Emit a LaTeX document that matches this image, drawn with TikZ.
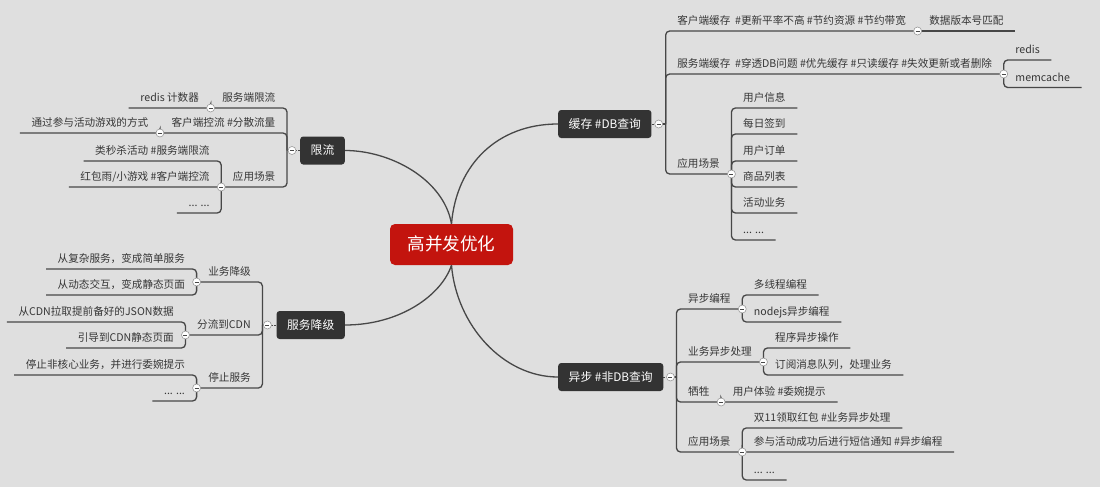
\documentclass[tikz,border=0pt]{standalone}
\usepackage{fontspec}
\setmainfont{Noto Sans CJK SC}
\usetikzlibrary{calc}
\definecolor{bgpaper}{HTML}{DFDFDF}
\definecolor{hubred}{HTML}{C3140E}
\definecolor{boxgray}{HTML}{333333}
\definecolor{inkgray}{HTML}{363636}
\definecolor{linegray}{HTML}{474747}
\definecolor{knobedge}{HTML}{9A9A9A}
\tikzset{
  hub/.style={fill=hubred, text=white, rounded corners=5pt, font=\fontsize{17.6}{20}\selectfont,
    inner xsep=17.5pt, inner ysep=0pt, minimum height=41pt, text height=14pt, text depth=2pt},
  branch/.style={fill=boxgray, text=white, rounded corners=3pt, font=\fontsize{11.8}{14}\selectfont,
    inner xsep=10.5pt, inner ysep=0pt, minimum height=28pt, text height=9.5pt, text depth=1.5pt},
  leaf/.style={text=inkgray, font=\fontsize{10.6}{12}\selectfont, inner xsep=11.5pt, inner ysep=3.5pt,
    text height=8pt, text depth=2.5pt},
  link/.style={draw=linegray, line width=1.3pt, rounded corners=4pt},
  knob/.style={fill=white, draw=knobedge, line width=0.6pt},
  knobbar/.style={draw=linegray, line width=0.8pt},
}
\begin{document}
\begin{tikzpicture}[x=1pt, y=-1pt]
\fill[bgpaper] (0,0) rectangle (1100,487);
\useasboundingbox (0,0) rectangle (1100,487);

\node[hub] (hub) at (451.5,244.5) {高并发优化};

% 缓存
\node[branch, anchor=west] (cache) at (558,124) {缓存 \#DB查询};
\coordinate (cache-k) at ([xshift=7pt]cache.east);
\coordinate (cache-j) at ([xshift=14pt]cache.east);
\node[leaf, anchor=south west] (cache-cli) at (cache-j |- 0,31) {客户端缓存~~\#更新平率不高 \#节约资源 \#节约带宽};
\node[leaf, anchor=south west] (cache-ver) at (cache-cli.south east) {数据版本号匹配};
\node[leaf, anchor=south west] (cache-srv) at (cache-j |- 0,74) {服务端缓存~~\#穿透DB问题 \#优先缓存 \#只读缓存 \#失效更新或者删除};
\node[leaf, anchor=south west] (cache-redis) at (cache-srv.south east |- 0,60) {redis};
\node[leaf, anchor=south west] (cache-mem) at (cache-srv.south east |- 0,87.5) {memcache};
\node[leaf, anchor=south west] (cache-use) at (cache-j |- 0,174) {应用场景};
\foreach \t/\y [count=\i] in {用户信息/108, 每日签到/134, 用户订单/161, 商品列表/187, 活动业务/213, {... ...}/240}
  \node[leaf, anchor=south west] (cache-use\i) at (cache-use.south east |- 0,\y) {\t};

% 异步
\node[branch, anchor=west] (async) at (558,377) {异步 \#非DB查询};
\coordinate (async-k) at ([xshift=7pt]async.east);
\coordinate (async-j) at ([xshift=13pt]async.east);
\node[leaf, anchor=south west] (async-prog) at (async-j |- 0,309) {异步编程};
\node[leaf, anchor=south west] (async-biz) at (async-j |- 0,362) {业务异步处理};
\node[leaf, anchor=south west] (async-loss) at (async-j |- 0,402) {牺牲};
\node[leaf, anchor=south west] (async-use) at (async-j |- 0,452) {应用场景};
\node[leaf, anchor=south west] (async-prog1) at (async-prog.south east |- 0,295) {多线程编程};
\node[leaf, anchor=south west] (async-prog2) at (async-prog.south east |- 0,322) {nodejs异步编程};
\node[leaf, anchor=south west] (async-biz1) at (async-biz.south east |- 0,348) {程序异步操作};
\node[leaf, anchor=south west] (async-biz2) at (async-biz.south east |- 0,375) {订阅消息队列，处理业务};
\node[leaf, anchor=south west] (async-loss1) at (async-loss.south east) {用户体验 \#委婉提示};
\node[leaf, anchor=south west] (async-use1) at (async-use.south east |- 0,428) {双11领取红包 \#业务异步处理};
\node[leaf, anchor=south west] (async-use2) at (async-use.south east |- 0,452) {参与活动成功后进行短信通知 \#异步编程};
\node[leaf, anchor=south west] (async-use3) at (async-use.south east |- 0,480) {... ...};

% 限流
\node[branch, anchor=east] (limit) at (345,150.5) {限流};
\coordinate (limit-k) at ([xshift=-8pt]limit.west);
\coordinate (limit-j) at ([xshift=-13pt]limit.west);
\node[leaf, anchor=south east] (lim-srv) at (limit-j |- 0,108) {服务端限流};
\node[leaf, anchor=south east] (lim-cli) at (limit-j |- 0,133) {客户端控流 \#分散流量};
\node[leaf, anchor=south east] (lim-use) at (limit-j |- 0,187) {应用场景};
\node[leaf, anchor=south east] (lim-srv1) at (lim-srv.south west) {redis 计数器};
\node[leaf, anchor=south east] (lim-cli1) at (lim-cli.south west) {通过参与活动游戏的方式};
\node[leaf, anchor=south east] (lim-use1) at (lim-use.south west |- 0,161) {类秒杀活动 \#服务端限流};
\node[leaf, anchor=south east] (lim-use2) at (lim-use.south west |- 0,187) {红包雨/小游戏 \#客户端控流};
\node[leaf, anchor=south east] (lim-use3) at (lim-use.south west |- 0,213) {... ...};

% 服务降级
\node[branch, anchor=east] (degrade) at (345,325) {服务降级};
\coordinate (degrade-k) at ([xshift=-9pt]degrade.west);
\coordinate (degrade-j) at ([xshift=-14pt]degrade.west);
\node[leaf, anchor=south east] (deg-biz) at (degrade-j |- 0,282) {业务降级};
\node[leaf, anchor=south east] (deg-cdn) at (degrade-j |- 0,335) {分流到CDN};
\node[leaf, anchor=south east] (deg-stop) at (degrade-j |- 0,388) {停止服务};
\node[leaf, anchor=south east] (deg-biz1) at (deg-biz.south west |- 0,269) {从复杂服务，变成简单服务};
\node[leaf, anchor=south east] (deg-biz2) at (deg-biz.south west |- 0,295) {从动态交互，变成静态页面};
\node[leaf, anchor=south east] (deg-cdn1) at (deg-cdn.south west |- 0,322) {从CDN拉取提前备好的JSON数据};
\node[leaf, anchor=south east] (deg-cdn2) at (deg-cdn.south west |- 0,348) {引导到CDN静态页面};
\node[leaf, anchor=south east] (deg-stop1) at (deg-stop.south west |- 0,375) {停止非核心业务，并进行委婉提示};
\node[leaf, anchor=south east] (deg-stop2) at (deg-stop.south west |- 0,401) {... ...};

% curves from the hub
\draw[link] (limit.east) .. controls +(45,0) and +(-8,-45) .. (hub.north);
\draw[link] (hub.north) .. controls +(5,-60) and +(-60,0) .. (cache.west);
\draw[link] (degrade.east) .. controls +(55,0) and +(-10,30) .. (hub.south);
\draw[link] (hub.south) .. controls +(5,60) and +(-55,0) .. (async.west);

% branch stubs
\foreach \b in {cache, async}
{
    \draw[link, line width=1pt, dash pattern=on 2pt off 1.5pt] (\b.east) -- (\b-k);
    \draw[link] (\b-k) -- (\b-j);
}
\foreach \b in {limit, degrade}
{
    \draw[link, line width=1pt, dash pattern=on 2pt off 1.5pt] (\b.west) -- (\b-k);
    \draw[link] (\b-k) -- (\b-j);
}

% right side underlines
\foreach \c in {cache-cli, cache-srv, cache-use}
    \draw[link] (cache-j) |- (\c.south east);
\draw[link] (cache-cli.south east) -- (cache-ver.south east);
\foreach \c in {cache-redis, cache-mem}
    \draw[link] (cache-srv.south east) |- (\c.south east);
\foreach \i in {1,...,6}
    \draw[link] (cache-use.south east) |- (cache-use\i.south east);
\foreach \c in {async-prog, async-biz, async-loss, async-use}
    \draw[link] (async-j) |- (\c.south east);
\foreach \p/\c in {async-prog/async-prog1, async-prog/async-prog2, async-biz/async-biz1, async-biz/async-biz2,
    async-loss/async-loss1, async-use/async-use1, async-use/async-use2, async-use/async-use3}
    \draw[link] (\p.south east) |- (\c.south east);

% left side underlines
\foreach \c in {lim-srv, lim-cli, lim-use}
    \draw[link] (limit-j) |- (\c.south west);
\foreach \c in {deg-biz, deg-cdn, deg-stop}
    \draw[link] (degrade-j) |- (\c.south west);
\foreach \p/\c in {lim-srv/lim-srv1, lim-cli/lim-cli1, lim-use/lim-use1, lim-use/lim-use2, lim-use/lim-use3,
    deg-biz/deg-biz1, deg-biz/deg-biz2, deg-cdn/deg-cdn1, deg-cdn/deg-cdn2, deg-stop/deg-stop1, deg-stop/deg-stop2}
    \draw[link] (\p.south west) |- (\c.south west);

% collapse knobs
\foreach \k in {cache-k, async-k, limit-k, degrade-k,
    cache-cli.south east, cache-srv.south east, cache-use.south east,
    async-prog.south east, async-biz.south east, async-loss.south east, async-use.south east,
    lim-srv.south west, lim-cli.south west, lim-use.south west,
    deg-biz.south west, deg-cdn.south west, deg-stop.south west}
{
    \filldraw[knob] (\k) circle (4pt);
    \draw[knobbar] ([xshift=-2pt]\k) -- ([xshift=2pt]\k);
}
\end{tikzpicture}
\end{document}
